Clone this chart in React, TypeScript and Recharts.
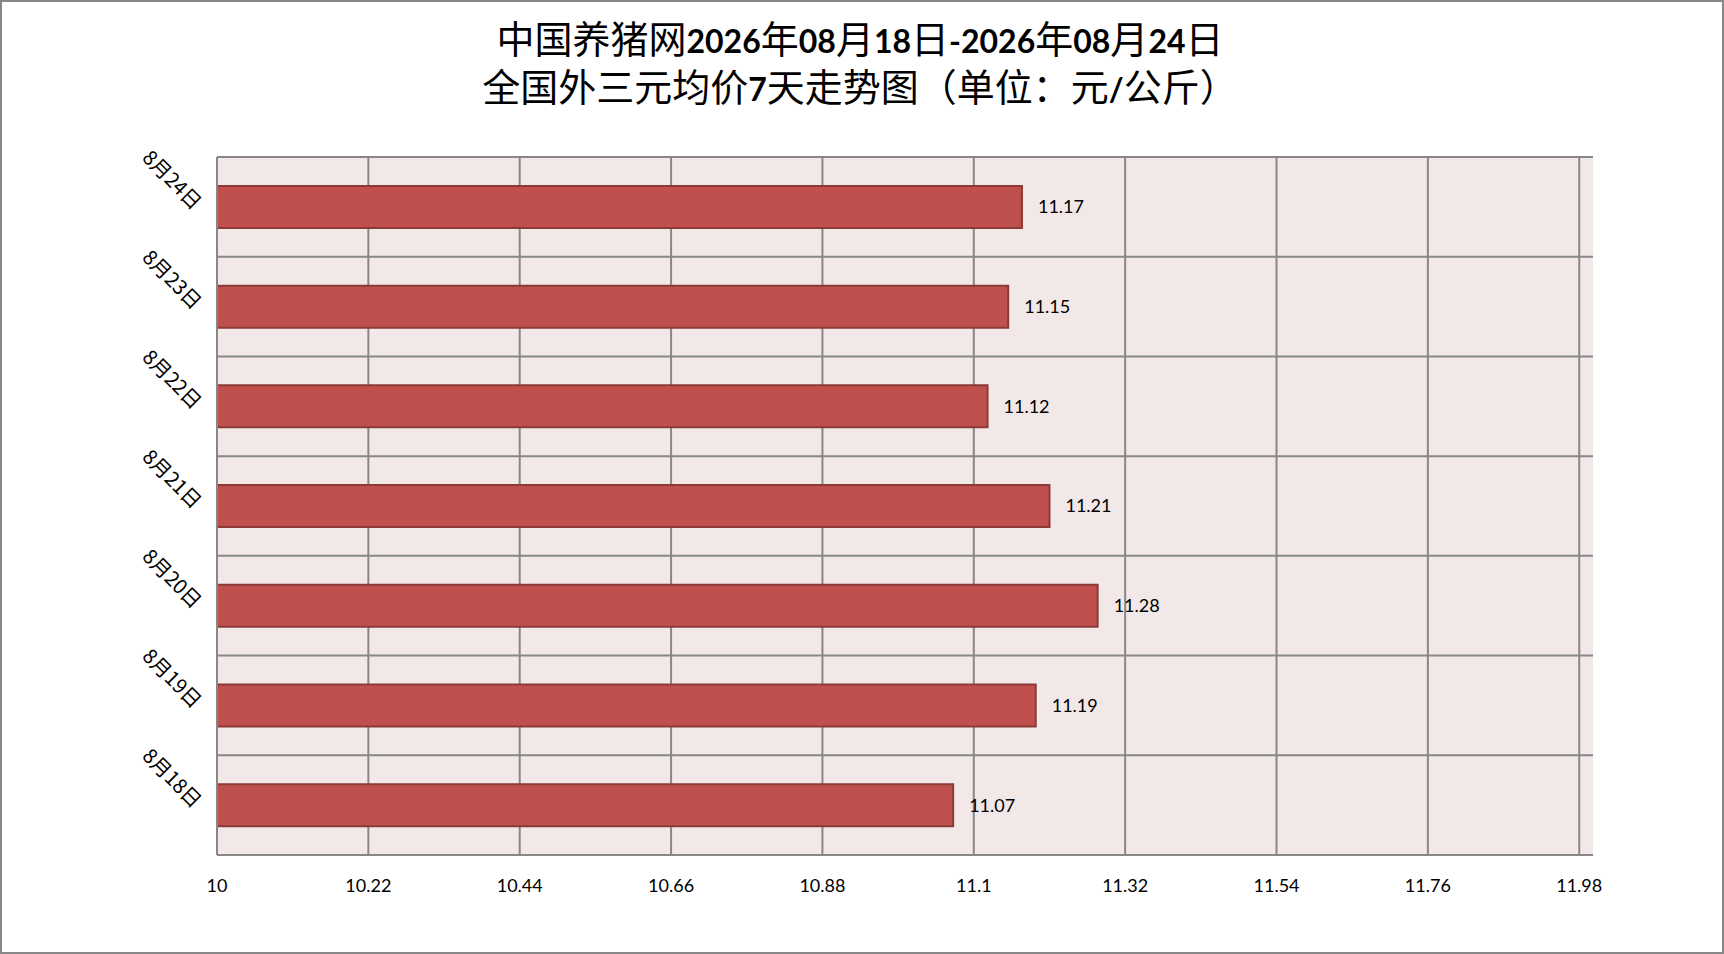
import React from 'react'
import { BarChart, Bar, XAxis, YAxis, CartesianGrid, LabelList } from 'recharts'

// 7天外三元均价（元/公斤），日期从早到晚
const days = ['8月18日', '8月19日', '8月20日', '8月21日', '8月22日', '8月23日', '8月24日']
const prices = [11.07, 11.19, 11.28, 11.21, 11.12, 11.15, 11.17]
const xTicks = [10, 10.22, 10.44, 10.66, 10.88, 11.1, 11.32, 11.54, 11.76, 11.98]

const data = days.map((day, i) => ({ day, price: prices[i] }))

const W = 1724
const H = 954
const GRID = '#878787'
const LABEL_FONT = 'Lato, "Noto Sans", sans-serif'
const CJK_FONT = '"Noto Sans CJK SC", sans-serif'

function DayTick(props: any) {
  const { x, y, payload } = props
  return (
    <text
      x={x - 16}
      y={y + 4}
      textAnchor="end"
      transform={`rotate(45, ${x - 16}, ${y + 4})`}
      fontFamily={CJK_FONT}
      fontSize={20}
      fill="#000"
    >
      {payload.value}
    </text>
  )
}

function Num({ children }: { children: React.ReactNode }) {
  return <span style={{ fontFamily: LABEL_FONT, fontWeight: 700, fontSize: 32 }}>{children}</span>
}

export default function App() {
  return (
    <div
      style={{
        position: 'absolute',
        left: 0,
        top: 0,
        width: W,
        height: H,
        boxSizing: 'border-box',
        border: `2px solid ${GRID}`,
        background: '#fff',
      }}
    >
      <div
        style={{
          position: 'absolute',
          left: 0,
          top: 13,
          width: W - 8,
          textAlign: 'center',
          fontFamily: CJK_FONT,
          fontSize: 38,
          lineHeight: '44px',
          color: '#000',
        }}
      >
        <div>
          中国养猪网<Num>2026</Num>年<Num>08</Num>月<Num>18</Num>日<Num>-2026</Num>年<Num>08</Num>月
          <Num>24</Num>日
        </div>
        <div>
          全国外三元均价<Num>7</Num>天走势图（单位：元<Num>/</Num>公斤）
        </div>
      </div>
      <div style={{ position: 'absolute', left: -2, top: -2 }}>
        <BarChart
          width={W}
          height={H}
          data={data}
          layout="vertical"
          barCategoryGap="29%"
          margin={{ top: 157, right: 131, bottom: 59, left: 117 }}
        >
          <CartesianGrid
            fill="#F2E8E8"
            stroke={GRID}
            strokeWidth={2}
            strokeDasharray=""
            horizontalCoordinatesGenerator={({ offset }: any) =>
              days.map((_, i) => offset.top + (i * offset.height) / days.length)
            }
            verticalCoordinatesGenerator={({ offset }: any) =>
              xTicks.slice(1).map((t) => offset.left + ((t - 10) / 2) * offset.width)
            }
          />
          <XAxis
            type="number"
            domain={[10, 12]}
            ticks={xTicks}
            interval={0}
            height={40}
            axisLine={{ stroke: GRID, strokeWidth: 2 }}
            tickLine={false}
            tickMargin={18}
            tick={{ fill: '#000', fontSize: 18, fontFamily: LABEL_FONT }}
            allowDataOverflow
          />
          <YAxis
            type="category"
            dataKey="day"
            reversed
            width={100}
            axisLine={{ stroke: GRID, strokeWidth: 2 }}
            tickLine={false}
            tick={<DayTick />}
          />
          <Bar dataKey="price" fill="#C0504D" stroke="#8C3A38" strokeWidth={2} isAnimationActive={false}>
            <LabelList
              dataKey="price"
              position="right"
              offset={16}
              fill="#000"
              fontSize={18}
              fontFamily={LABEL_FONT}
            />
          </Bar>
        </BarChart>
      </div>
    </div>
  )
}
